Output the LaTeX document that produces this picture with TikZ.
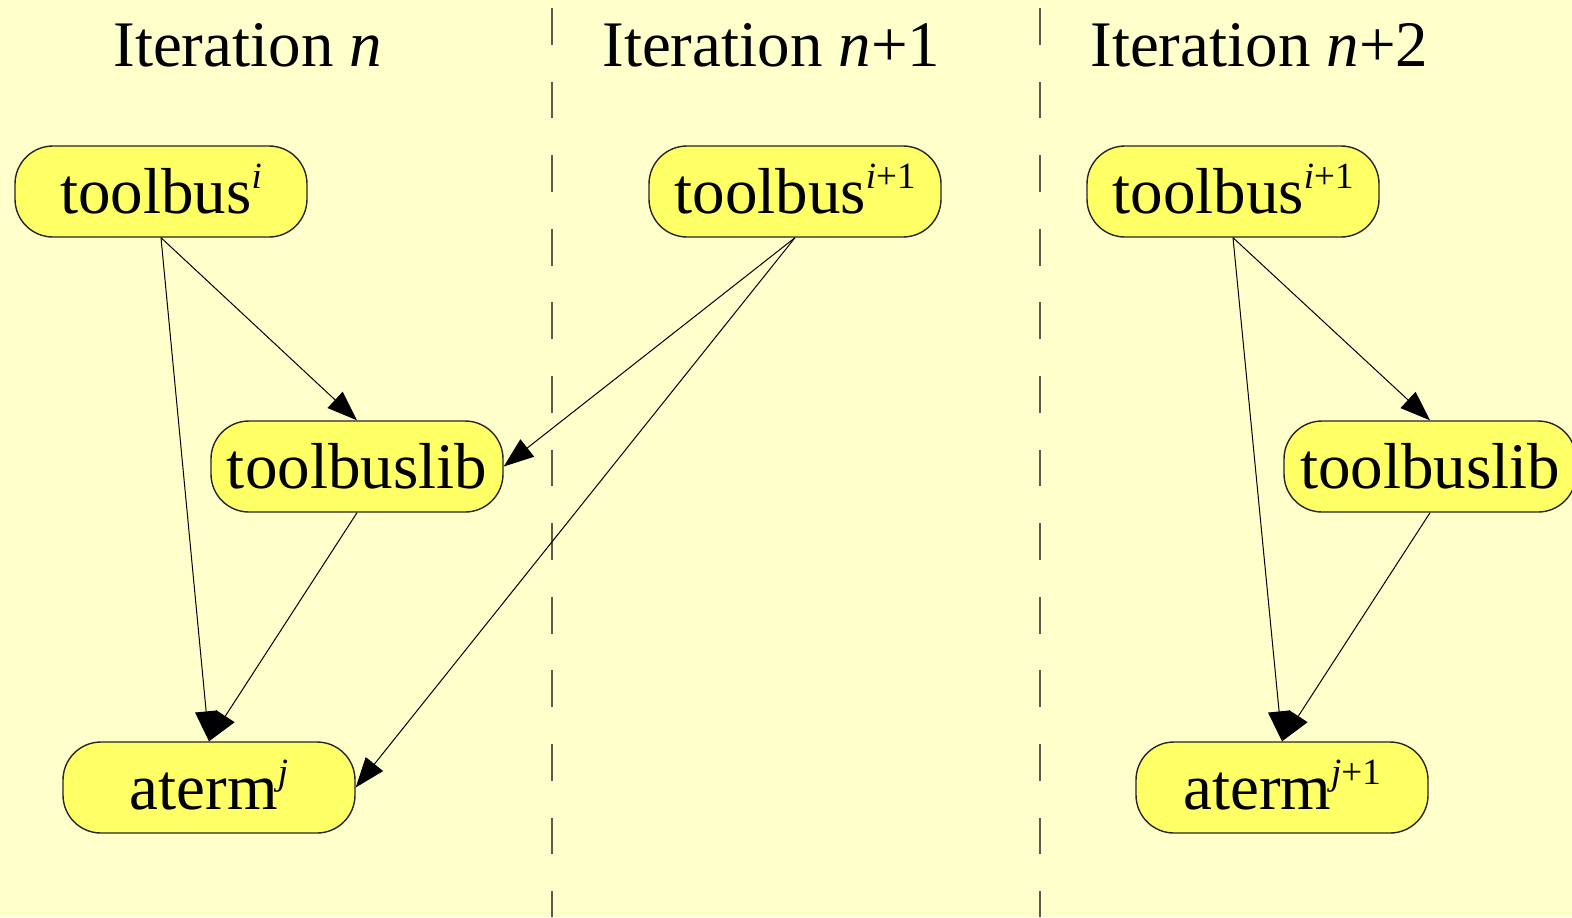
\documentclass[tikz,border=0pt]{standalone}
\usepackage{fontspec}
\setmainfont{Liberation Serif}
\usetikzlibrary{arrows.meta}
\definecolor{paper}{HTML}{FFFFCC}
\definecolor{boxfill}{HTML}{FFFF66}
\definecolor{rulegray}{HTML}{5A5A52}
% raised, smaller index after a module name
\newcommand\supidx[1]{\raisebox{12.5pt}{\fontsize{18.5pt}{18.5pt}\selectfont #1}}

\begin{document}
\begin{tikzpicture}[x=0.5pt,y=-0.5pt,
  module/.style={draw=black!85, line width=0.7pt, fill=boxfill,
    rounded corners=19pt, minimum width=146pt, minimum height=45.5pt,
    inner sep=0pt, text height=25pt, text depth=3.5pt,
    font=\fontsize{32.5pt}{36pt}\selectfont},
  heading/.style={anchor=base west, inner sep=0pt,
    font=\fontsize{32.5pt}{36pt}\selectfont},
  dep/.style={line width=0.5pt, -{Triangle[length=15pt,width=11pt]}},
  divider/.style={draw=rulegray, line width=0.75pt,
    dash pattern=on 18.4pt off 18.4pt}]

\useasboundingbox (0,0) rectangle (1572,917);
\fill[paper] (0,0) rectangle (1572,917);
\clip (0,0) rectangle (1572,917);

% column separators
\draw[divider] (552,8) -- (552,917);
\draw[divider] (1040,8) -- (1040,917);

% column headings
\node[heading] (h1) at (113,66) {Iteration \textit{n}};
\node[heading] (h2) at (602,66) {Iteration \textit{n}+1};
\node[heading] (h3) at (1090,66) {Iteration \textit{n}+2};

% iteration n
\node[module] (tb1) at (161,191.5) {toolbus\supidx{\textit{i}}};
\node[module] (lib1) at (357,466.5) {toolbuslib};
\node[module] (at1) at (209,787.5) {aterm\supidx{\textit{j}}};

% iteration n+1
\node[module] (tb2) at (795,191.5) {toolbus\supidx{\textit{i}+1}};

% iteration n+2
\node[module] (tb3) at (1233,191.5) {toolbus\supidx{\textit{i}+1}};
\node[module] (lib3) at (1430,466.5) {toolbuslib};
\node[module] (at3) at (1282,787.5) {aterm\supidx{\textit{j}+1}};

% dependencies
\draw[dep] (tb1.south) -- (lib1.north);
\draw[dep] (tb1.south) -- (at1.north);
\draw[dep] (lib1.south) -- (at1.north);
\draw[dep] (tb2.south) -- (lib1.east);
\draw[dep] (tb2.south) -- (at1.east);
\draw[dep] (tb3.south) -- (lib3.north);
\draw[dep] (tb3.south) -- (at3.north);
\draw[dep] (lib3.south) -- (at3.north);
\end{tikzpicture}
\end{document}
